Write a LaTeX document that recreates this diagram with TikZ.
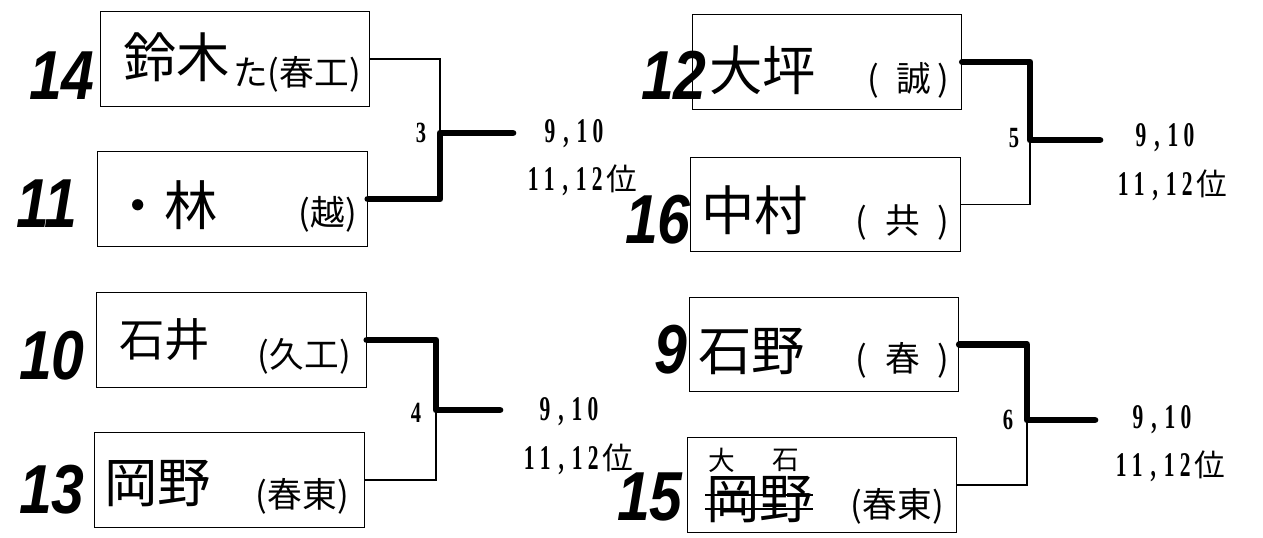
\documentclass[tikz,border=0pt]{standalone}
\usepackage{fontspec}
\usepackage{graphicx}
\setmainfont{Liberation Serif}
\newfontfamily\jpfont{Noto Sans CJK JP}
\newfontfamily\seedfont{Liberation Sans}
\newcommand{\namefont}{\jpfont\fontsize{40}{40}\selectfont}
\newcommand{\schoolfont}{\jpfont\fontsize{26}{26}\selectfont}
\newcommand{\fixfont}{\jpfont\fontsize{20}{20}\selectfont}
\newcommand{\seedtext}[1]{\scalebox{0.85}[1]{\seedfont\bfseries\itshape\fontsize{52}{52}\selectfont #1}}
\newcommand{\hw}[1]{\makebox[12pt]{\scalebox{0.62}[1]{\fontsize{26}{26}\selectfont\bfseries #1}}}
\newcommand{\fw}[1]{\makebox[25pt]{\jpfont\fontsize{23}{23}\selectfont #1}}
\newcommand{\matchno}[1]{\scalebox{0.7}[1]{\fontsize{22}{22}\selectfont\bfseries #1}}
\newcommand{\placeA}{\hw{9}\hw{,}\hw{1}\hw{0}}
\newcommand{\placeB}{\hw{1}\hw{1}\hw{,}\hw{1}\hw{2}\fw{位}}

\begin{document}
\begin{tikzpicture}[x=0.75pt,y=0.75pt,yscale=-1,xscale=1,
  pbox/.style={draw, line width=0.9pt, minimum width=202pt, minimum height=71pt, inner sep=0pt},
  lose/.style={line width=0.8pt},
  win/.style={line width=5pt, line cap=round, line join=round},
  txt/.style={inner sep=0.75pt}]
\useasboundingbox (0,0) rectangle (1263,538);

%Shape: Rectangle (players, left)
\node[pbox] (p14) at (235,59) {};
\node[pbox] (p11) at (232.5,199) {};
\node[pbox] (p10) at (231.5,340) {};
\node[pbox] (p13) at (229.5,480) {};
%Shape: Rectangle (players, right)
\node[pbox] (p12) at (827,62) {};
\node[pbox] (p16) at (825.5,204.5) {};
\node[pbox] (p9) at (824,344.5) {};
\node[pbox] (p15) at (822,485) {};

% Seed numbers
\node[txt] (s14) at (62,76) {\seedtext{14}};
\node[txt] (s11) at (47,204) {\seedtext{11}};
\node[txt] (s10) at (52,356) {\seedtext{10}};
\node[txt] (s13) at (52,490) {\seedtext{13}};
\node[txt] (s12) at (674,75) {\seedtext{12}};
\node[txt] (s16) at (658,220) {\seedtext{16}};
\node[txt] (s9) at (671,350) {\seedtext{9}};
\node[txt] (s15) at (650,497) {\seedtext{15}};

% Text Node (names)
\node[txt, anchor=west] (n14) at (122,57) {\namefont 鈴木};
\node[txt, anchor=west] (n11) at (110,205) {\namefont ・林};
\node[txt, anchor=west] (n10) at (118,340) {\jpfont\fontsize{34}{34}\selectfont 石井};
\node[txt, anchor=west] (n13) at (103,484) {\namefont 岡野};
\node[txt, anchor=west] (n12) at (708,70) {\namefont 大坪};
\node[txt, anchor=west] (n16) at (700,210) {\namefont 中村};
\node[txt, anchor=west] (n9) at (697,352) {\namefont 石野};
\node[txt, anchor=west] (n15) at (705,500) {\namefont 岡野};
% Text Node (schools)
\node[txt, anchor=east] (c14) at (362,74) {\schoolfont た(春工)};
\node[txt, anchor=east] (c11) at (358,214) {\schoolfont (越)};
\node[txt, anchor=east] (c10) at (352,356) {\schoolfont (久工)};
\node[txt, anchor=east] (c13) at (350,496) {\schoolfont (春東)};
\node[txt, anchor=east] (c12) at (950,80) {\schoolfont (\enspace 誠\,)};
\node[txt, anchor=east] (c16) at (950,222) {\schoolfont (\enspace 共\enspace)};
\node[txt, anchor=east] (c9) at (950,360) {\schoolfont (\enspace 春\enspace)};
\node[txt, anchor=east] (c15) at (945,506) {\schoolfont (春東)};

% correction over the crossed name
\node[txt] (f15a) at (722,460) {\fixfont 大};
\node[txt] (f15b) at (786,460) {\fixfont 石};
\draw[line width=0.8pt] (705,495) -- (813,495);
\draw[line width=0.8pt] (705,509) -- (813,509);

%Straight Lines (brackets)
\coordinate (j3) at (440,133);
\coordinate (e3) at (513,133);
\coordinate (j4) at (436,410);
\coordinate (e4) at (500,410);
\coordinate (j5) at (1030,140);
\coordinate (e5) at (1100,140);
\coordinate (j6) at (1027,420);
\coordinate (e6) at (1095,420);
\draw[lose] (p14.east) -| (j3);
\draw[win] (p11.east) -| (j3) -- (e3);
\draw[lose] (p13.east) -| (j4);
\draw[win] (p10.east) -| (j4) -- (e4);
\draw[lose] (p16.east) -| (j5);
\draw[win] (p12.east) -| (j5) -- (e5);
\draw[lose] (p15.east) -| (j6);
\draw[win] (p9.east) -| (j6) -- (e6);

% Text Node (match numbers)
\node[txt] (m3) at (421,133) {\matchno{3}};
\node[txt] (m4) at (416,413) {\matchno{4}};
\node[txt] (m5) at (1014,138) {\matchno{5}};
\node[txt] (m6) at (1008,420) {\matchno{6}};

% Text Node (places)
\node[txt] (r3a) at (574,134) {\placeA};
\node[txt] (r3b) at (582,180) {\placeB};
\node[txt] (r4a) at (569,412) {\placeA};
\node[txt] (r4b) at (578,459) {\placeB};
\node[txt] (r5a) at (1165,138) {\placeA};
\node[txt] (r5b) at (1172,185) {\placeB};
\node[txt] (r6a) at (1162,420) {\placeA};
\node[txt] (r6b) at (1170,466) {\placeB};

\end{tikzpicture}
\end{document}
